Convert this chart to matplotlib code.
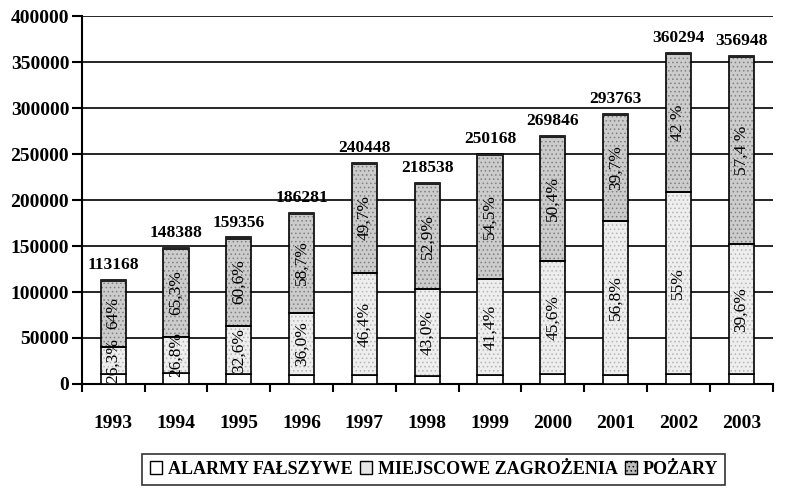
import numpy as np
import matplotlib
matplotlib.use('Agg')
import matplotlib.pyplot as plt
from matplotlib.patches import Patch

plt.rcParams['font.family'] = ['Liberation Serif', 'DejaVu Serif']
plt.rcParams['font.weight'] = 'bold'

years = ['1993', '1994', '1995', '1996', '1997', '1998', '1999', '2000', '2001', '2002', '2003']
totals = [113168, 148388, 159356, 186281, 240448, 218538, 250168, 269846, 293763, 360294, 356948]
# udzialy procentowe
pct_miejscowe = [26.3, 26.8, 32.6, 36.0, 46.4, 43.0, 41.4, 45.6, 56.8, 55.0, 39.6]
pct_pozary = [64.0, 65.3, 60.6, 58.7, 49.7, 52.9, 54.5, 50.4, 39.7, 42.0, 57.4]
lab_miejscowe = ['26,3%', '26,8%', '32,6%', '36,0%', '46,4%', '43,0%', '41,4%', '45,6%', '56,8%', '55%', '39,6%']
lab_pozary = ['64%', '65,3%', '60,6%', '58,7%', '49,7%', '52,9%', '54,5%', '50,4%', '39,7%', '42 %', '57,4 %']
legend_labels = ['ALARMY FAŁSZYWE', 'MIEJSCOWE ZAGROŻENIA', 'POŻARY']

totals = np.array(totals, dtype=float)
miejscowe = totals * np.array(pct_miejscowe) / 100
pozary = totals * np.array(pct_pozary) / 100
alarmy = totals - miejscowe - pozary

fig = plt.figure(figsize=(7.86, 4.91), dpi=100)
ax = fig.add_axes([0.104, 0.218, 0.879, 0.749])

x = np.arange(len(years))
w = 0.4
plt.rcParams['hatch.linewidth'] = 0.6

ax.bar(x, alarmy, w, color='white', edgecolor='black', linewidth=1.2, zorder=3)
ax.bar(x, miejscowe, w, bottom=alarmy, color='#eeeeee', edgecolor='#b5b5b5',
       hatch='....', linewidth=0, zorder=3)
ax.bar(x, miejscowe, w, bottom=alarmy, fill=False, edgecolor='black', linewidth=1.2, zorder=4)
ax.bar(x, pozary, w, bottom=alarmy + miejscowe, color='#cccccc', edgecolor='#808080',
       hatch='....', linewidth=0, zorder=3)
ax.bar(x, pozary, w, bottom=alarmy + miejscowe, fill=False, edgecolor='black', linewidth=1.2, zorder=4)
# ciemny pasek na gorze slupka
ax.bar(x, 2500, w, bottom=totals - 2500, color='#222222', linewidth=0, zorder=5)

for i in range(len(years)):
    ax.text(x[i], alarmy[i] + miejscowe[i] / 2, lab_miejscowe[i], rotation=90,
            ha='center', va='center', fontsize=12.5, fontweight='normal', zorder=6)
    ax.text(x[i], alarmy[i] + miejscowe[i] + pozary[i] / 2, lab_pozary[i], rotation=90,
            ha='center', va='center', fontsize=12.5, fontweight='normal', zorder=6)
    ax.annotate(str(int(totals[i])), (x[i], totals[i]), xytext=(0, 5),
                textcoords='offset points', ha='center', va='bottom',
                fontsize=12.5, fontweight='bold')

ax.set_ylim(0, 400000)
ax.set_xlim(-0.5, len(years) - 0.5)
ax.set_yticks(np.arange(0, 400001, 50000))
ax.yaxis.grid(True, color='black', linewidth=1.2, zorder=0)
ax.set_axisbelow(True)
ax.set_xticks(x)
ax.set_xticklabels(years)
ax.set_xticks(np.arange(-0.5, len(years), 1), minor=True)
ax.tick_params(axis='x', which='major', length=0, pad=22, labelsize=14)
ax.tick_params(axis='x', which='minor', length=6, width=1.5, direction='out')
ax.tick_params(axis='y', length=7, width=1.5, labelsize=14, pad=2)
for lab in ax.get_xticklabels() + ax.get_yticklabels():
    lab.set_fontweight('bold')

for s in ['top', 'right']:
    ax.spines[s].set_visible(False)
for s in ['left', 'bottom']:
    ax.spines[s].set_linewidth(1.5)

handles = [Patch(facecolor='white', edgecolor='black', linewidth=1),
           Patch(facecolor='#e6e6e6', edgecolor='black', linewidth=1),
           Patch(facecolor='#bdbdbd', edgecolor='black', linewidth=1, hatch='....')]
leg = fig.legend(handles, legend_labels, loc='center', bbox_to_anchor=(0.552, 0.044),
                 ncol=3, frameon=True, fancybox=False, edgecolor='black',
                 prop={'size': 13, 'weight': 'bold'}, handlelength=0.7, handleheight=0.7,
                 handletextpad=0.3, columnspacing=0.4, borderpad=0.4, borderaxespad=0)
leg.get_frame().set_linewidth(1.2)

fig.savefig('out.png', dpi=100)
